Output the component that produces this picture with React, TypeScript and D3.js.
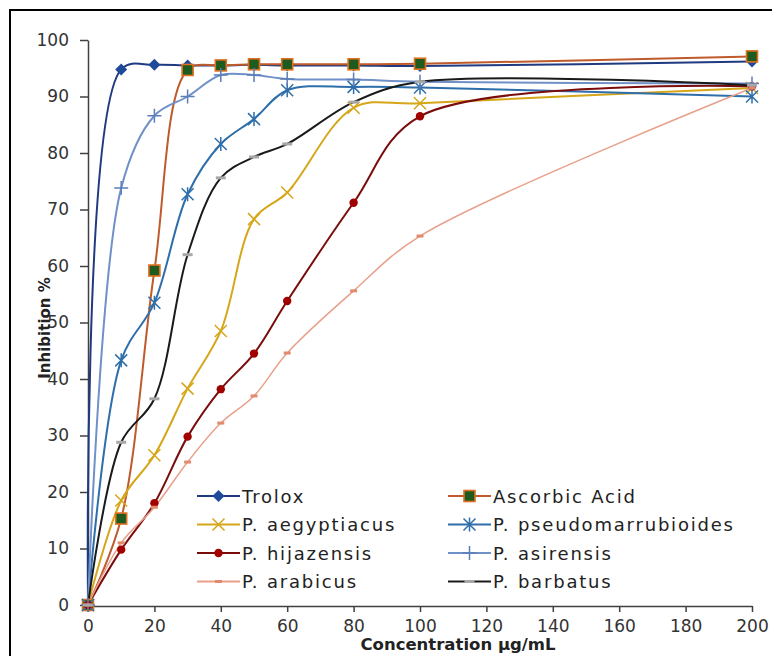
import { useEffect, useRef } from "react";
import * as d3 from "d3";

const concentrations = [0, 10, 20, 30, 40, 50, 60, 80, 100, 200];

const trolox = [0, 94.8, 95.6, 95.5, 95.5, 95.6, 95.5, 95.5, 95.4, 96.2];
const ascorbic = [0, 15.3, 59.2, 94.7, 95.5, 95.7, 95.7, 95.7, 95.8, 97.1];
const aegyptiacus = [0, 18.5, 26.5, 38.3, 48.5, 68.3, 73, 88, 88.8, 91.5];
const pseudomarrubioides = [0, 43.3, 53.5, 72.7, 81.6, 86, 91.1, 91.7, 91.6, 90];
const hijazensis = [0, 9.8, 18, 29.8, 38.2, 44.5, 53.8, 71.2, 86.5, 91.8];
const asirensis = [0, 73.8, 86.6, 90, 93.8, 93.8, 93.1, 93, 92.6, 92.3];
const arabicus = [0, 11, 17.3, 25.3, 32.2, 37, 44.6, 55.6, 65.3, 91.5];
const barbatus = [0, 28.8, 36.5, 62, 75.6, 79.3, 81.6, 89, 92.6, 92];

const seriesNames = [
  "Trolox",
  "Ascorbic Acid",
  "P. aegyptiacus",
  "P. pseudomarrubioides",
  "P. hijazensis",
  "P. asirensis",
  "P. arabicus",
  "P. barbatus",
];

const xTicks = [0, 20, 40, 60, 80, 100, 120, 140, 160, 180, 200];
const yTicks = [0, 10, 20, 30, 40, 50, 60, 70, 80, 90, 100];

type Style = { line: string; marker: string; fill: string; stroke: string };

const styles: Style[] = [
  { line: "#1f3a80", marker: "diamond", fill: "#1f4a9a", stroke: "#1f4a9a" },
  { line: "#bf5a2c", marker: "square", fill: "#1f5a1f", stroke: "#e07020" },
  { line: "#d6a619", marker: "x", fill: "none", stroke: "#d6a619" },
  { line: "#2e6eaa", marker: "star", fill: "none", stroke: "#2e6eaa" },
  { line: "#7a0c0c", marker: "circle", fill: "#a00000", stroke: "#a00000" },
  { line: "#7090c8", marker: "plus", fill: "none", stroke: "#5b7db8" },
  { line: "#e8a08a", marker: "dash", fill: "#e08a70", stroke: "none" },
  { line: "#1a1a1a", marker: "wdash", fill: "#a8a8a8", stroke: "none" },
];

function drawMarker(g: any, kind: string, cx: number, cy: number, s: Style) {
  if (kind === "diamond") {
    g.append("path")
      .attr("d", `M${cx},${cy - 6}L${cx + 6},${cy}L${cx},${cy + 6}L${cx - 6},${cy}Z`)
      .attr("fill", s.fill);
  } else if (kind === "square") {
    g.append("rect")
      .attr("x", cx - 5.5)
      .attr("y", cy - 5.5)
      .attr("width", 11)
      .attr("height", 11)
      .attr("fill", s.fill)
      .attr("stroke", s.stroke)
      .attr("stroke-width", 1.6);
  } else if (kind === "x") {
    g.append("path")
      .attr("d", `M${cx - 6},${cy - 6}L${cx + 6},${cy + 6}M${cx - 6},${cy + 6}L${cx + 6},${cy - 6}`)
      .attr("stroke", s.stroke)
      .attr("stroke-width", 1.5);
  } else if (kind === "star") {
    g.append("path")
      .attr(
        "d",
        `M${cx - 6},${cy - 6}L${cx + 6},${cy + 6}M${cx - 6},${cy + 6}L${cx + 6},${cy - 6}M${cx},${cy - 7}L${cx},${cy + 7}`
      )
      .attr("stroke", s.stroke)
      .attr("stroke-width", 1.5);
  } else if (kind === "circle") {
    g.append("circle").attr("cx", cx).attr("cy", cy).attr("r", 4.2).attr("fill", s.fill);
  } else if (kind === "plus") {
    g.append("path")
      .attr("d", `M${cx - 7},${cy}L${cx + 7},${cy}M${cx},${cy - 7}L${cx},${cy + 7}`)
      .attr("stroke", s.stroke)
      .attr("stroke-width", 1.5);
  } else if (kind === "dash") {
    g.append("rect")
      .attr("x", cx - 3.5)
      .attr("y", cy - 1.5)
      .attr("width", 7)
      .attr("height", 3)
      .attr("fill", s.fill);
  } else if (kind === "wdash") {
    g.append("rect")
      .attr("x", cx - 5)
      .attr("y", cy - 1.5)
      .attr("width", 10)
      .attr("height", 3)
      .attr("fill", s.fill);
  }
}

export default function App() {
  const svgRef = useRef<SVGSVGElement>(null);

  useEffect(() => {
    const svg = d3.select(svgRef.current);
    svg.selectAll("*").remove();

    const width = 772;
    const height = 656;
    const font = "'DejaVu Sans', Verdana, sans-serif";

    const x = d3.scaleLinear().domain([0, 200]).range([88, 752]);
    const y = d3.scaleLinear().domain([0, 100]).range([605, 40]);

    svg.append("rect").attr("width", width).attr("height", height).attr("fill", "#fff");

    // outer frame
    svg
      .append("rect")
      .attr("x", 10)
      .attr("y", 10)
      .attr("width", 800)
      .attr("height", 700)
      .attr("fill", "none")
      .attr("stroke", "#000")
      .attr("stroke-width", 2);

    // axes
    const yAxis = svg
      .append("g")
      .attr("transform", `translate(${x(0)},0)`)
      .call(d3.axisLeft(y).tickValues(yTicks).tickSize(8).tickPadding(11).tickSizeOuter(0));
    const xAxis = svg
      .append("g")
      .attr("transform", `translate(0,${y(0) + 1})`)
      .call(d3.axisBottom(x).tickValues(xTicks).tickSize(6).tickPadding(8).tickSizeOuter(0));

    [xAxis, yAxis].forEach((a) => {
      a.select(".domain").attr("stroke", "#404040").attr("stroke-width", 1.5);
      a.selectAll(".tick line").attr("stroke", "#404040").attr("stroke-width", 1.5);
      a.selectAll("text")
        .attr("fill", "#333")
        .style("font-family", font)
        .style("font-size", "17px");
    });

    const data = [trolox, ascorbic, aegyptiacus, pseudomarrubioides, hijazensis, asirensis, arabicus, barbatus];

    const line = d3
      .line<number>()
      .x((_, i) => x(concentrations[i]))
      .y((d) => y(d))
      .curve(d3.curveCatmullRom.alpha(0.5));

    const plot = svg.append("g");
    data.forEach((vals, k) => {
      const s = styles[k];
      plot
        .append("path")
        .datum(vals)
        .attr("d", line)
        .attr("fill", "none")
        .attr("stroke", s.line)
        .attr("stroke-width", k === 6 ? 1.5 : 2);
    });
    data.forEach((vals, k) => {
      const s = styles[k];
      const g = plot.append("g");
      vals.forEach((v, i) => drawMarker(g, s.marker, x(concentrations[i]), y(v), s));
    });

    // legend
    const legend = svg.append("g");
    seriesNames.forEach((name, k) => {
      const col = k % 2;
      const row = Math.floor(k / 2);
      const lx = col === 0 ? 197 : 448;
      const ly = 496 + row * 28.5;
      const s = styles[k];
      legend
        .append("line")
        .attr("x1", lx)
        .attr("x2", lx + 43)
        .attr("y1", ly)
        .attr("y2", ly)
        .attr("stroke", s.line)
        .attr("stroke-width", 2);
      drawMarker(legend, s.marker, lx + 21.5, ly, s);
      legend
        .append("text")
        .attr("x", lx + 45)
        .attr("y", ly + 6.5)
        .attr("fill", "#222")
        .style("font-family", font)
        .style("font-size", "18px")
        .style("letter-spacing", "1.8px")
        .text(name);
    });

    // axis titles
    svg
      .append("text")
      .attr("x", 458)
      .attr("y", 650)
      .attr("text-anchor", "middle")
      .attr("fill", "#222")
      .style("font-family", font)
      .style("font-size", "16.5px")
      .style("font-weight", "bold")
      .text("Concentration µg/mL");

    svg
      .append("text")
      .attr("transform", `translate(50,328) rotate(-90)`)
      .attr("text-anchor", "middle")
      .attr("fill", "#222")
      .style("font-family", font)
      .style("font-size", "15px")
      .style("font-weight", "bold")
      .text("Inhibition %");
  }, []);

  return (
    <svg
      ref={svgRef}
      width={772}
      height={656}
      style={{ position: "absolute", left: 0, top: 0 }}
    />
  );
}
